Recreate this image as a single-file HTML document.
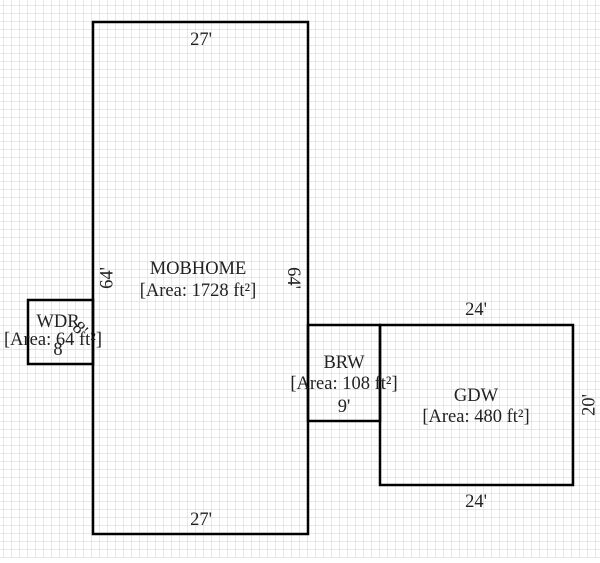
<!DOCTYPE html>
<html><head><style>
body{margin:0;width:600px;height:558px;overflow:hidden;background:#fff;}
</style></head><body>
<svg width="600" height="558" xmlns="http://www.w3.org/2000/svg" font-family="Liberation Serif, serif" font-size="18.5" fill="#222">
<defs>
<pattern id="g" x="3" y="5" width="8" height="8" patternUnits="userSpaceOnUse">
<path d="M0 0H8M0 0V8" stroke="#cfcfd8" stroke-width="1" fill="none"/>
</pattern>
</defs>
<rect width="600" height="558" fill="url(#g)"/>
<g fill="none" stroke="#000" stroke-width="2.5">
<rect x="93" y="22" width="215" height="512"/>
<rect x="28" y="300" width="65" height="64"/>
<rect x="308" y="325" width="72" height="96"/>
<rect x="380" y="325" width="193" height="160"/>
</g>
<g text-anchor="middle">
<text x="201" y="45">27'</text>
<text x="201" y="525">27'</text>
<text x="198" y="274">MOBHOME</text>
<text x="198" y="296">[Area: 1728 ft²]</text>
<text x="108" y="278" transform="rotate(-90 108 278)" dominant-baseline="middle">64'</text>
<text x="292" y="278" transform="rotate(90 292 278)" dominant-baseline="middle">64'</text>
<text x="58" y="327">WDR</text>
<text x="53" y="345">[Area: 64 ft²]</text>
<text x="58" y="355">8</text>
<text x="76" y="333" transform="rotate(45 76 333)">8'</text>
<text x="344" y="368">BRW</text>
<text x="344" y="389">[Area: 108 ft²]</text>
<text x="344" y="412">9'</text>
<text x="476" y="315">24'</text>
<text x="476" y="507">24'</text>
<text x="476" y="401">GDW</text>
<text x="476" y="422">[Area: 480 ft²]</text>
<text x="590" y="405" transform="rotate(-90 590 405)" dominant-baseline="middle">20'</text>
</g>
</svg>
</body></html>
